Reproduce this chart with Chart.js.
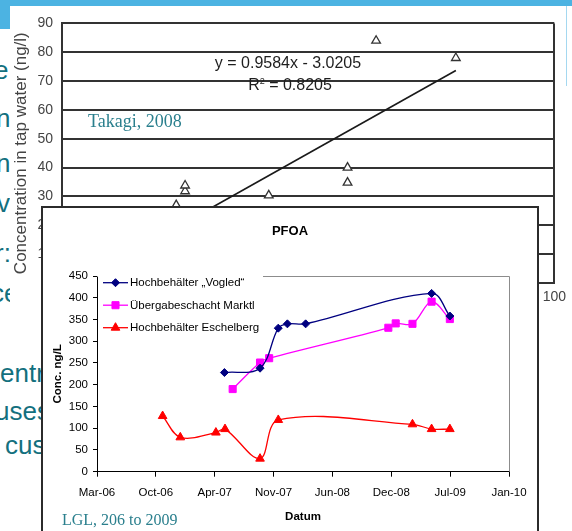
<!DOCTYPE html>
<html>
<head>
<meta charset="utf-8">
<script src="https://cdn.jsdelivr.net/npm/chart.js@4.4.0/dist/chart.umd.min.js"></script>
<style>
  html, body { margin: 0; padding: 0; background: #fff; width: 572px; height: 531px; overflow: hidden; position: relative; font-family: "Liberation Sans", Arial, sans-serif; }
  .bar { position: absolute; background: #4cb3e2; }
  .slide { position: absolute; left: 0; top: 0; color: #13707e; font-size: 26px; line-height: 30px; z-index: 0; }
  .slide span { position: absolute; white-space: nowrap; }
  #takagiWrap { position: absolute; left: 10px; top: 6px; width: 562px; height: 300px; background: #fff; z-index: 1; }
  .note { position: absolute; white-space: nowrap; transform: translate(-50%, -50%); color: #1e1e1e; font-size: 16px; }
  .cite { position: absolute; white-space: nowrap; transform: translateY(-50%); color: #2a7f8d; font-family: "Liberation Serif", "Times New Roman", serif; }
  #pfoaWrap { position: absolute; left: 41px; top: 206px; width: 494px; height: 400px; border: 2px solid #2b2b2b; background: #fff; z-index: 2; }
  #edge { position: absolute; left: 566px; top: 6px; width: 1px; height: 80px; background: #a5d8f0; z-index: 3; }
  canvas { display: block; }
</style>
</head>
<body>
<div class="bar" style="left:0;top:0;width:572px;height:6px"></div>
<div class="bar" style="left:0;top:0;width:10px;height:29px"></div>

<div class="slide">
  <span style="left:-6px;top:55px">e</span>
  <span style="left:-4px;top:103px">n</span>
  <span style="left:-4px;top:148px">n</span>
  <span style="left:-3px;top:188px">v</span>
  <span style="left:-5px;top:238px">r:</span>
  <span style="left:-9px;top:278px">ce</span>
  <span style="left:0px;top:358px">entr</span>
  <span style="left:-5px;top:396px">uses</span>
  <span style="left:5px;top:430px">cus</span>
</div>

<div id="takagiWrap">
  <canvas id="takagiChart" width="562" height="300"></canvas>
  <div class="note" style="left:278px;top:57px">y = 0.9584x - 3.0205</div>
  <div class="note" style="left:280px;top:79px">R<sup style="font-size:9px">2</sup> = 0.8205</div>
  <div class="cite" style="left:78px;top:115px;font-size:18px">Takagi, 2008</div>
</div>
<div id="edge"></div>

<div id="pfoaWrap">
  <canvas id="pfoaChart" width="494" height="323"></canvas>
  <div class="cite" style="left:19px;top:312px;font-size:16px">LGL, 206 to 2009</div>
</div>

<script>
// PFOA in drinking water, sampling dates and concentrations (ng/L)
const vogledDates = ['2007-05-31', '2007-09-29', '2007-11-30', '2007-12-31', '2008-03-02', '2009-05-04', '2009-07-05'];
const vogledValues = [228, 238, 330, 340, 340, 410, 358];

const marktlDates = ['2007-06-28', '2007-09-29', '2007-10-30', '2008-12-08', '2009-01-02', '2009-02-28', '2009-05-04', '2009-07-05'];
const marktlValues = [190, 251, 261, 331, 341, 340, 391, 351];

const eschelbergDates = ['2006-11-02', '2007-01-01', '2007-05-02', '2007-06-02', '2007-09-29', '2007-11-30', '2009-02-28', '2009-05-04', '2009-07-05'];
const eschelbergValues = [128, 79, 90, 98, 30, 119, 109, 98, 98];

const seriesLabels = ['Hochbehälter \u201EVogled\u201C', '\u00DCbergabeschacht Marktl', 'Hochbehälter Eschelberg'];
const dateTickLabels = ['Mar-06', 'Oct-06', 'Apr-07', 'Nov-07', 'Jun-08', 'Dec-08', 'Jul-09', 'Jan-10'];
const dateAxisStart = '2006-03-24';
const dateAxisStepDays = 200;

// Takagi 2008 scatter (background figure)
const takagiX = [23.2, 25, 25, 42, 58, 58, 63.8, 80];
const takagiY = [27, 31.8, 33.8, 30.4, 34.8, 40, 84, 78];
const trendSlope = 0.9584;
const trendIntercept = -3.0205;
const trendX = [15, 80];

const FONT = '"Liberation Sans", Arial, sans-serif';
Chart.defaults.font.family = FONT;
Chart.defaults.color = '#000';

// dates as spreadsheet day numbers, so the axis runs in plain days
const excelEpoch = Date.UTC(1899, 11, 30);
function serial(d) {
    const [y, m, dd] = d.split('-').map(Number);
    return (Date.UTC(y, m - 1, dd) - excelEpoch) / 86400000;
}
function pairs(dates, values) {
    return dates.map((d, i) => ({ x: serial(d), y: values[i] }));
}

const axisMin = serial(dateAxisStart);
const axisMax = axisMin + dateAxisStepDays * (dateTickLabels.length - 1);

// plot frame (grey top/right) plus a legend sitting inside the plot, like the Excel original
const pfoaFrame = {
    id: 'pfoaFrame',
    beforeDatasetsDraw(chart) {
        const { ctx, chartArea: a } = chart;
        ctx.save();
        ctx.strokeStyle = '#8c8c8c';
        ctx.lineWidth = 1;
        ctx.beginPath();
        ctx.moveTo(a.left, Math.round(a.top) + 0.5);
        ctx.lineTo(Math.round(a.right) + 0.5, Math.round(a.top) + 0.5);
        ctx.lineTo(Math.round(a.right) + 0.5, a.bottom);
        ctx.stroke();
        ctx.restore();
    },
    afterDatasetsDraw(chart) {
        const { ctx, chartArea: a } = chart;
        ctx.save();
        ctx.fillStyle = '#fff';
        ctx.fillRect(a.left + 1, a.top - 1, 165, 62);
        chart.data.datasets.forEach((ds, i) => {
            const y = a.top + 6.7 + i * 22.5;
            const x0 = a.left + 6;
            ctx.strokeStyle = ds.borderColor;
            ctx.lineWidth = ds.borderWidth;
            ctx.beginPath();
            ctx.moveTo(x0, y);
            ctx.lineTo(x0 + 25, y);
            ctx.stroke();
            ctx.fillStyle = ds.pointBackgroundColor;
            ctx.strokeStyle = ds.pointBorderColor;
            ctx.lineWidth = 1;
            Chart.helpers.drawPoint(ctx, {
                pointStyle: ds.pointStyle, radius: ds.pointRadius, borderWidth: 1, rotation: 0
            }, x0 + 12.5, y);
            ctx.fillStyle = '#000';
            ctx.font = '11.5px ' + FONT;
            ctx.textBaseline = 'middle';
            ctx.textAlign = 'left';
            ctx.fillText(ds.label, x0 + 27, y + 0.5);
        });
        ctx.restore();
    }
};

function series(label, dates, values, color, style, radius) {
    return {
        label: label,
        data: pairs(dates, values),
        borderColor: color,
        backgroundColor: color,
        borderWidth: 1.3,
        pointStyle: style,
        pointRadius: radius,
        pointBackgroundColor: color,
        pointBorderColor: color,
        pointBorderWidth: 1,
        tension: 0.35,
        fill: false
    };
}

new Chart(document.getElementById('pfoaChart'), {
    type: 'line',
    data: {
        datasets: [
            series(seriesLabels[0], vogledDates, vogledValues, '#000080', 'rectRot', 4),
            series(seriesLabels[1], marktlDates, marktlValues, '#ff00ff', 'rect', 5),
            series(seriesLabels[2], eschelbergDates, eschelbergValues, '#ff0000', 'triangle', 5)
        ]
    },
    options: {
        responsive: false,
        animation: false,
        layout: { padding: 0 },
        plugins: {
            legend: { display: false },
            tooltip: { enabled: false },
            title: {
                display: true,
                text: 'PFOA',
                color: '#000',
                font: { size: 13, weight: 'bold' },
                padding: { top: 15.2, bottom: 37.2 }
            }
        },
        scales: {
            x: {
                type: 'linear',
                min: axisMin,
                max: axisMax,
                afterFit: s => { s.height = 59.3; },
                ticks: {
                    stepSize: dateAxisStepDays,
                    autoSkip: false,
                    maxRotation: 0,
                    padding: 9,
                    color: '#000',
                    font: { size: 11.5 },
                    callback: (v, i) => dateTickLabels[i]
                },
                grid: { drawOnChartArea: false, drawTicks: true, tickLength: 5, color: '#000' },
                border: { display: true, color: '#000', width: 1 },
                title: {
                    display: true,
                    text: 'Datum',
                    color: '#000',
                    font: { size: 11.5, weight: 'bold' },
                    padding: { top: 0, bottom: 7 }
                }
            },
            y: {
                min: 0,
                max: 450,
                afterFit: s => { s.width = 54; },
                ticks: { stepSize: 50, padding: 5, color: '#000', font: { size: 11.5 } },
                grid: { drawOnChartArea: false, drawTicks: true, tickLength: 4, color: '#000' },
                border: { display: true, color: '#000', width: 1 },
                title: {
                    display: true,
                    text: 'Conc. ng/L',
                    color: '#000',
                    font: { size: 11.5, weight: 'bold' },
                    padding: { top: 8, bottom: 0 }
                }
            },
            // empty right-hand margin, keeps the title centred on the whole box
            yRight: {
                position: 'right',
                afterFit: s => { s.width = 28; },
                ticks: { display: false },
                grid: { display: false },
                border: { display: false }
            }
        }
    },
    plugins: [pfoaFrame]
});

new Chart(document.getElementById('takagiChart'), {
    type: 'scatter',
    data: {
        datasets: [
            {
                data: takagiX.map((x, i) => ({ x: x, y: takagiY[i] })),
                pointStyle: 'triangle',
                pointRadius: 5,
                pointBackgroundColor: '#fff',
                pointBorderColor: '#333',
                pointBorderWidth: 1.3
            },
            {
                type: 'line',
                data: trendX.map(x => ({ x: x, y: trendSlope * x + trendIntercept })),
                borderColor: '#1a1a1a',
                borderWidth: 1.6,
                pointRadius: 0,
                showLine: true
            }
        ]
    },
    options: {
        responsive: false,
        animation: false,
        layout: { padding: { left: 0, right: 15, top: 8, bottom: 0 } },
        plugins: { legend: { display: false }, tooltip: { enabled: false } },
        scales: {
            x: {
                type: 'linear',
                min: 0,
                max: 100,
                afterFit: s => { s.height = 23; },
                ticks: { stepSize: 20, padding: 6, color: '#444', font: { size: 14 } },
                grid: {
                    drawTicks: false,
                    lineWidth: 2,
                    color: c => (c.tick && c.tick.value === 100) ? '#333' : 'rgba(0,0,0,0)'
                },
                border: { display: true, color: '#333', width: 2 }
            },
            y: {
                min: 0,
                max: 90,
                afterFit: s => { s.width = 52; },
                ticks: { stepSize: 10, padding: 9, color: '#444', font: { size: 14 } },
                grid: { drawTicks: false, color: '#333', lineWidth: 2 },
                border: { display: true, color: '#333', width: 2 },
                title: {
                    display: true,
                    text: 'Concentration in tap water (ng/l)',
                    color: '#444',
                    font: { size: 17 },
                    padding: { top: 1, bottom: 0 }
                }
            }
        }
    }
});
</script>
</body>
</html>
